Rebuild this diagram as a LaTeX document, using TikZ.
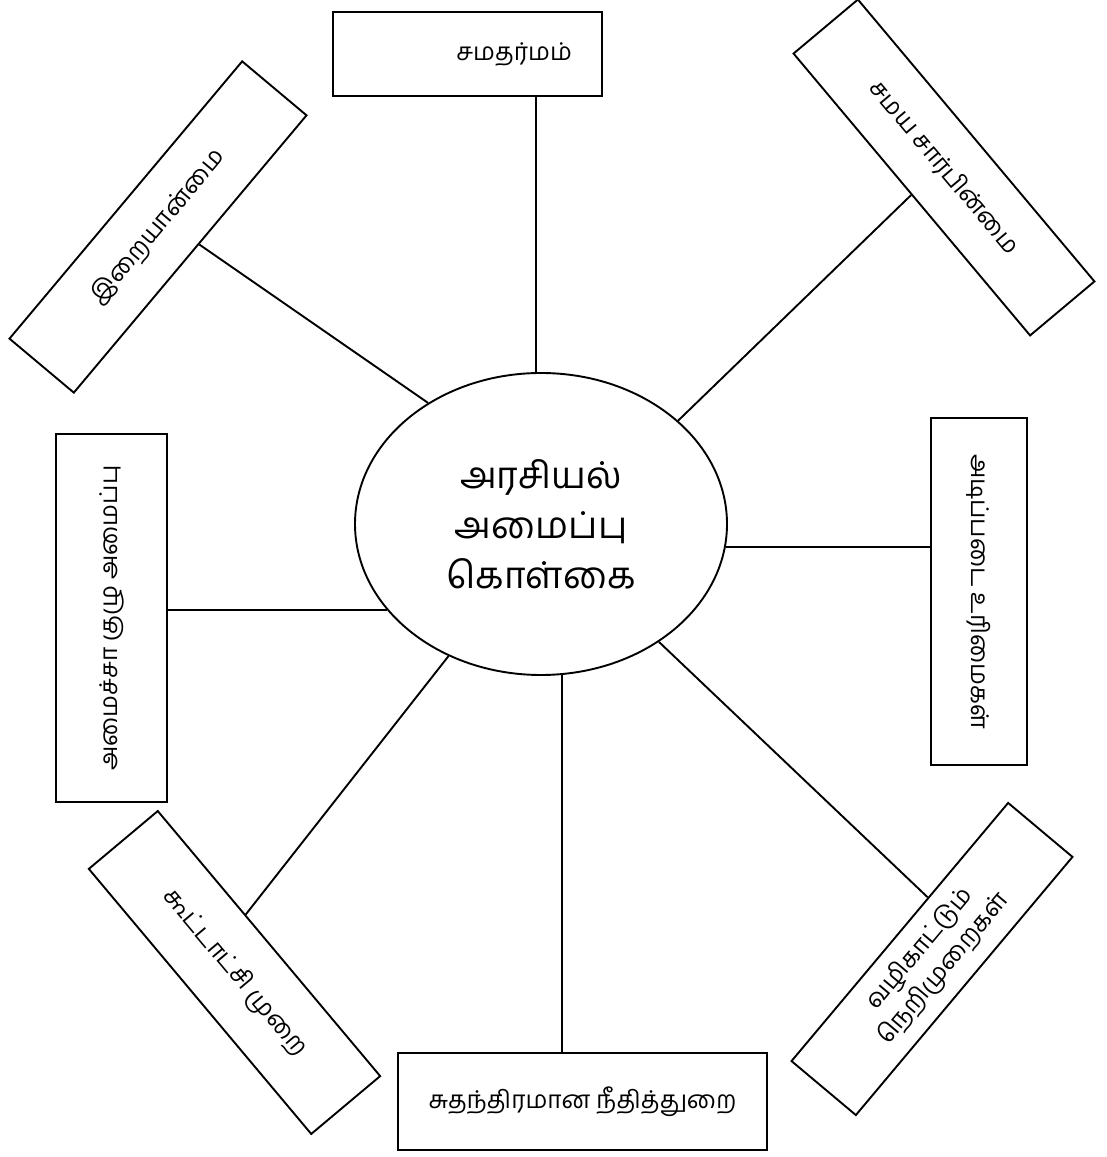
\documentclass[tikz,border=0pt]{standalone}
\usepackage{fontspec}
\newfontfamily\tamilfont[Script=Tamil]{Hind Madurai}
\usetikzlibrary{shapes.geometric}

\tikzset{
  topic/.style={draw, line width=1.9pt, rectangle, inner sep=0pt, align=center,
    font=\tamilfont\fontsize{24.5}{31}\selectfont},
  hub/.style={draw, line width=1.9pt, ellipse, inner sep=0pt, align=center,
    minimum width=372pt, minimum height=302pt,
    font=\tamilfont\fontsize{37}{50}\selectfont},
  spoke/.style={line width=1.9pt}
}

\begin{document}
\begin{tikzpicture}[x=1pt,y=1pt]
  \useasboundingbox (0,0) rectangle (1107,1157);
  % centre
  \node[hub] (kolgai) at (541,633) {அரசியல்\\அமைப்பு\\கொள்கை};
  % boxes round it
  \node[topic, text width=209pt, inner xsep=30pt, align=right, minimum height=84pt] (samatharmam) at (467.5,1103) {சமதர்மம்};
  \node[topic, minimum width=369pt, minimum height=97pt] (neethi) at (582.5,55.5) {சுதந்திரமான நீதித்துறை};
  \node[topic, rotate=90, minimum width=368pt, minimum height=111pt] (amaichar) at (111.5,539) {அமைச்சா குழு அமைப்பு};
  \node[topic, rotate=-90, minimum width=347pt, minimum height=96pt] (urimai) at (979,565.5) {அடிப்படை உரிமைகள்};
  \node[topic, rotate=-50, minimum width=368pt, minimum height=84pt] (samaya) at (944,989.5) {சமய சார்பின்மை};
  \node[topic, rotate=50, minimum width=362pt, minimum height=84pt] (iraimai) at (158,930) {இறையான்மை};
  \node[topic, rotate=-50, minimum width=346pt, minimum height=90pt] (kootatchi) at (234.5,184.5) {கூட்டாட்சி முறை};
  \node[topic, rotate=50, minimum width=337pt, minimum height=84pt] (vazhi) at (932,198) {வழிகாட்டும்\\நெறிமுறைகள்};
  % spokes
  \draw[spoke] (kolgai.92) -- (kolgai.92 |- samatharmam.south);
  \draw[spoke] (kolgai.-82) -- (kolgai.-82 |- neethi.north);
  \draw[spoke] (kolgai.209) -- (kolgai.209 -| amaichar.south);
  \draw[spoke] (kolgai.-7) -- (kolgai.-7 -| urimai.south);
  \draw[spoke] (kolgai.37) -- (samaya.south);
  \draw[spoke] (kolgai.133) -- (iraimai.-73);
  \draw[spoke] (kolgai.235) -- (kootatchi.129);
  \draw[spoke] (kolgai.-45) -- (vazhi.44);
\end{tikzpicture}
\end{document}
